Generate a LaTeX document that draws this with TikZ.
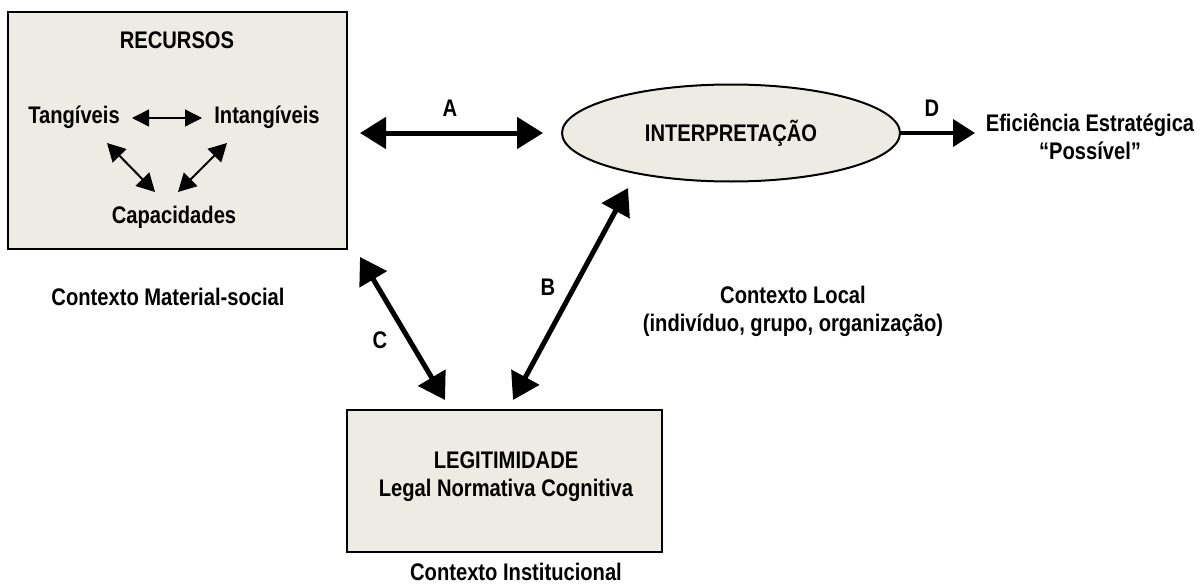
\documentclass[tikz,border=0pt]{standalone}
\usepackage{fontspec}
\setmainfont{Liberation Sans}[FakeStretch=0.84]
\usetikzlibrary{arrows.meta,shapes.geometric}
\definecolor{boxfill}{HTML}{EDECE4}
\tikzset{
  lbl/.style={font=\fontsize{24}{28}\selectfont\bfseries, inner sep=0pt, align=center},
  framebox/.style={draw=black, line width=2pt, fill=boxfill, rectangle, inner sep=0pt},
  bigarrow/.style={line width=5pt, {Triangle[length=26pt,width=31pt]}-{Triangle[length=26pt,width=31pt]}},
  oneway/.style={line width=4pt, -{Triangle[length=22pt,width=27pt]}},
  smallarrow/.style={line width=1.3pt, {Triangle[length=17pt,width=17pt]}-{Triangle[length=17pt,width=17pt]}},
  diagarrow/.style={line width=2pt, {Triangle[length=18pt,width=19pt]}-{Triangle[length=18pt,width=19pt]}},
}
\begin{document}
\begin{tikzpicture}[x=1pt,y=-1pt]
\useasboundingbox (0,0) rectangle (1204,586);

% boxes
\node[framebox, minimum width=339pt, minimum height=237pt] (rec) at (177.5,130.5) {};
\node[framebox, minimum width=315pt, minimum height=142pt] (leg) at (504.5,481) {};
\node[draw=black, line width=2pt, fill=boxfill, ellipse, inner sep=0pt,
      minimum width=338pt, minimum height=97pt] (interp) at (731,133) {};

% texts in recursos
\node[lbl] (recT) at (177,40) {RECURSOS};
\node[lbl] (tang) at (74,117) {Tangíveis};
\node[lbl] (intang) at (267,117) {Intangíveis};
\node[lbl] (cap) at (174,217) {Capacidades};

% other texts
\node[lbl] (interpT) at (731,133) {INTERPRETAÇÃO};
\node[lbl] (legT) at (506,477) {LEGITIMIDADE\\Legal Normativa Cognitiva};
\node[lbl] (efic) at (1090,137) {Eficiência Estratégica\\“Possível”};
\node[lbl] (cms) at (168,297) {Contexto Material-social};
\node[lbl] (cloc) at (793,311) {Contexto Local\\(indivíduo, grupo, organização)};
\node[lbl] (cinst) at (516,572) {Contexto Institucional};

\node[lbl] (lA) at (450,108) {A};
\node[lbl] (lB) at (548,287) {B};
\node[lbl] (lC) at (380,340) {C};
\node[lbl] (lD) at (932,108) {D};

% arrow endpoints
\coordinate (a1) at (360,133);
\coordinate (a2) at (543,133);
\coordinate (b1) at (628,188);
\coordinate (b2) at (513,400);
\coordinate (c1) at (360,257);
\coordinate (c2) at (445,400);
\coordinate (d1) at (899,133);
\coordinate (d2) at (975,133);
\coordinate (t1) at (132,118);
\coordinate (t2) at (202,118);
\coordinate (l1) at (107,143);
\coordinate (l2) at (155,192);
\coordinate (r1) at (227,143);
\coordinate (r2) at (178,192);

\draw[bigarrow] (a1) -- (a2);
\draw[bigarrow] (b1) -- (b2);
\draw[bigarrow] (c1) -- (c2);
\draw[oneway] (d1) -- (d2);
\draw[smallarrow] (t1) -- (t2);
\draw[diagarrow] (l1) -- (l2);
\draw[diagarrow] (r1) -- (r2);
\end{tikzpicture}
\end{document}
